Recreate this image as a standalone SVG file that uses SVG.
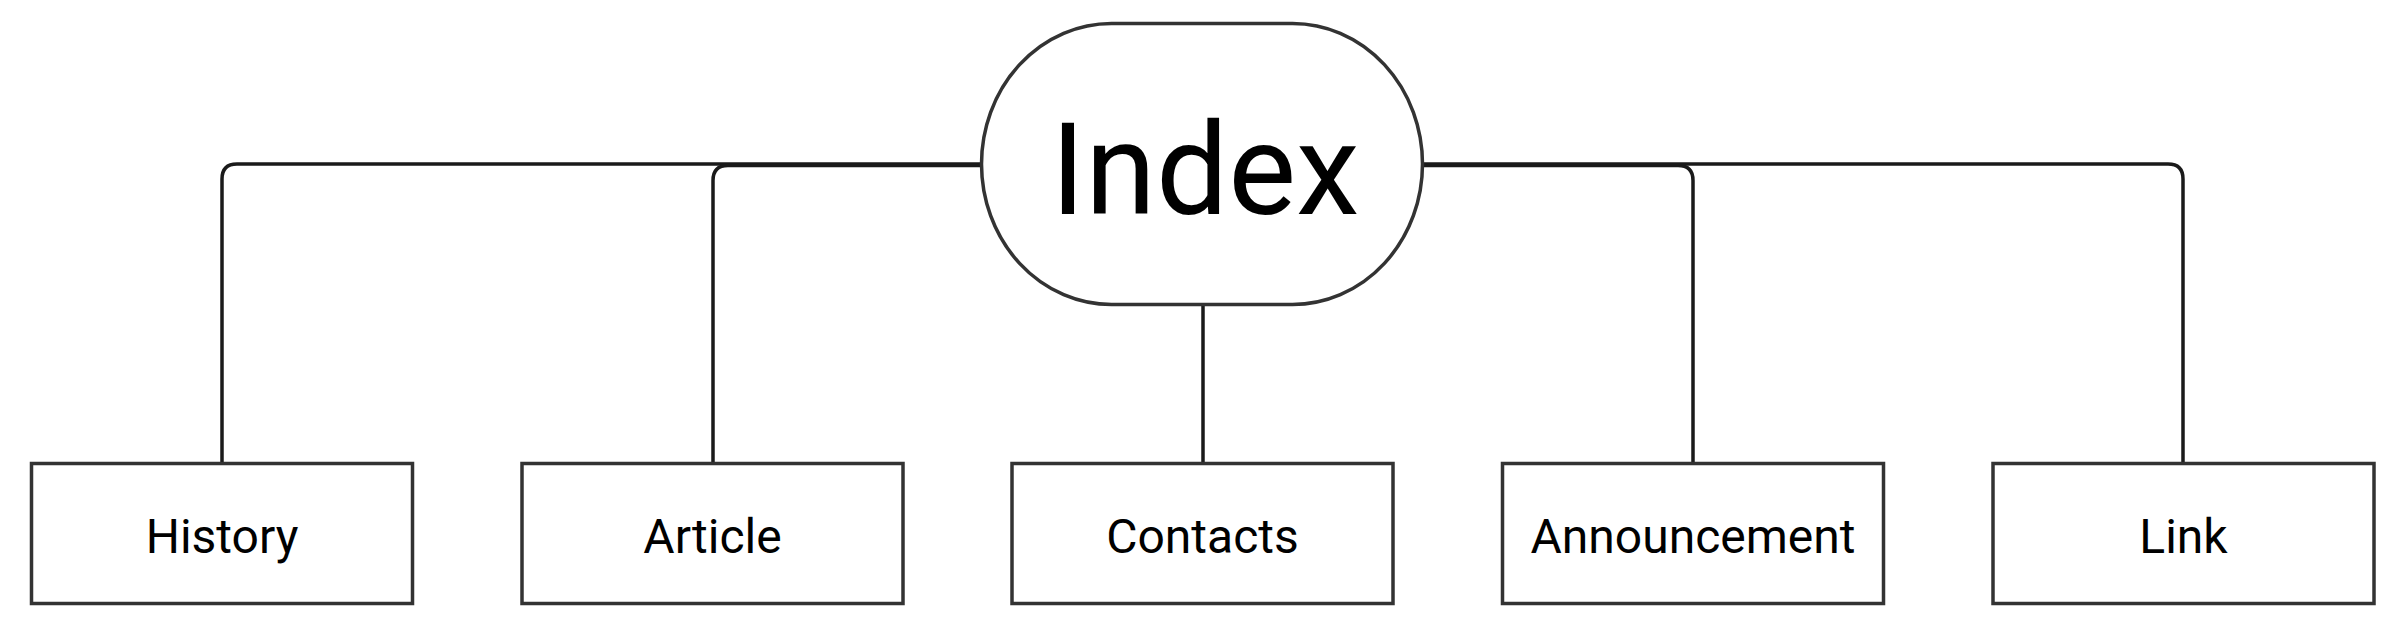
<svg xmlns="http://www.w3.org/2000/svg" width="2390" height="622" viewBox="0 0 2390 622">
<style>
.box{fill:#fff;stroke:#333;stroke-width:3.5}
.lbl{font-family:Roboto,"Liberation Sans",sans-serif;font-size:48px;fill:#000;text-anchor:middle}
.big{font-family:Roboto,"Liberation Sans",sans-serif;font-size:128px;fill:#000;text-anchor:middle}
.conn{fill:none;stroke:#1a1a1a;stroke-width:3.5}
</style>
<rect width="2390" height="622" fill="#fff"/>
<g id="connectors">
<path class="conn" d="M983,164 H237 Q222,164 222,179 V463.5"/>
<path class="conn" d="M983,165.5 H728 Q713,165.5 713,180.5 V464"/>
<path class="conn" d="M1203,304 V464"/>
<path class="conn" d="M1421,165.5 H1678 Q1693,165.5 1693,180.5 V464"/>
<path class="conn" d="M1421,164 H2168 Q2183,164 2183,179 V464"/>
</g>
<g id="index">
<rect class="box" x="981.5" y="23.5" width="441" height="281" rx="130" ry="140.5"/>
<text class="big" x="1205" y="214">Index</text>
</g>
<g id="history">
<rect class="box" x="31.5" y="463.5" width="381" height="140"/>
<text class="lbl" x="222" y="552.5">History</text>
</g>
<g id="article">
<rect class="box" x="522" y="463.5" width="381" height="140"/>
<text class="lbl" x="712.5" y="552.5">Article</text>
</g>
<g id="contacts">
<rect class="box" x="1012" y="463.5" width="381" height="140"/>
<text class="lbl" x="1202.5" y="552.5">Contacts</text>
</g>
<g id="announcement">
<rect class="box" x="1502.5" y="463.5" width="381" height="140"/>
<text class="lbl" x="1693" y="552.5">Announcement</text>
</g>
<g id="link">
<rect class="box" x="1993" y="463.5" width="381" height="140"/>
<text class="lbl" x="2183.5" y="552.5">Link</text>
</g>
</svg>
